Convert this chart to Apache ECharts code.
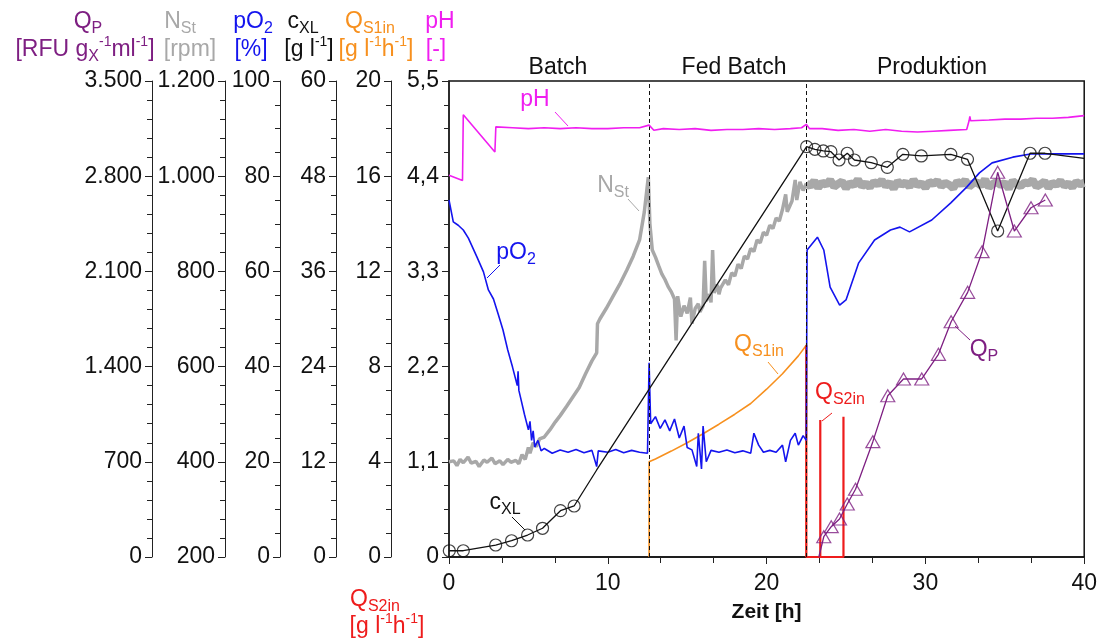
<!DOCTYPE html>
<html>
<head>
<meta charset="utf-8">
<script src="https://cdn.jsdelivr.net/npm/echarts@6/dist/echarts.min.js"></script>
<style>
  html, body { margin: 0; padding: 0; background: #fff; }
  #chart { width: 1100px; height: 640px; }
</style>
</head>
<body>
<div id="chart"></div>
<script>
// ---- time axis and process phases ----
const timeRange = [0, 40];
const phaseBounds = [12.6, 22.5];
const phaseNames = ['Batch', 'Fed Batch', 'Produktion'];

// ---- axis scales: [min, max, interval] ----
const qpScale   = [0, 3500, 700];
const nstScale  = [200, 1200, 200];
const po2Scale  = [0, 100, 20];
const cxlScale  = [0, 60, 12];
const qs1Scale  = [0, 20, 4];
const phScale   = [0, 5.5, 1.1];

// ---- pH [-] : [t, value] ----
const phData = [
  [0, 4.41], [0.85, 4.35], [0.9, 5.11], [2.89, 4.68], [2.95, 4.97], [4, 4.96], [5, 4.95],
  [6, 4.96], [7, 4.95], [8, 4.96], [9, 4.95], [10, 4.95], [11, 4.96], [12, 4.96],
  [12.6, 4.99], [12.9, 4.93], [13.5, 4.95], [14.5, 4.94], [15.5, 4.95], [16.5, 4.93],
  [17.5, 4.94], [18.5, 4.94], [19.5, 4.95], [20.5, 4.94], [21.5, 4.95], [22.2, 4.96],
  [22.5, 5.0], [22.7, 4.95], [23.5, 4.95], [24.5, 4.93], [25.5, 4.94], [26.5, 4.92],
  [27.5, 4.94], [28.5, 4.92], [29.5, 4.91], [30.5, 4.92], [31.5, 4.93], [32.6, 4.94],
  [32.75, 5.04], [32.8, 5.09], [32.85, 5.04], [34, 5.05], [35, 5.06], [36, 5.06],
  [37, 5.07], [38, 5.07], [39, 5.08], [40, 5.1]
];

// ---- stirrer speed N_St [rpm], batch + fed batch ----
const nstGrowth = [
  [0, 400], [0.3, 402], [0.5, 392], [0.7, 405], [0.9, 398], [1.2, 410], [1.4, 397],
  [1.7, 401], [1.9, 390], [2.2, 404], [2.4, 399], [2.7, 408], [2.9, 396], [3.2, 402],
  [3.4, 394], [3.7, 405], [3.9, 399], [4.2, 403], [4.4, 396], [4.6, 415], [4.8, 405],
  [5.0, 430], [5.1, 418], [5.3, 440], [5.5, 432], [5.7, 448], [6.0, 452], [6.35, 467],
  [6.7, 484], [7.0, 497], [7.4, 516], [7.8, 536], [8.2, 556], [8.6, 585], [9.0, 612],
  [9.3, 629], [9.35, 690], [9.5, 700], [9.9, 722], [10.3, 746], [10.8, 776], [11.2, 803],
  [11.6, 832], [12.0, 866], [12.3, 925], [12.55, 998],
  [12.65, 900], [12.8, 845], [13.0, 830], [13.2, 812], [13.4, 795], [13.6, 783], [13.8, 768],
  [14.0, 757], [14.2, 742], [14.3, 655], [14.4, 748], [14.6, 705], [14.8, 728], [15.0, 712],
  [15.2, 745], [15.3, 690], [15.5, 722], [15.7, 732], [15.8, 715], [16.0, 728], [16.1, 822],
  [16.2, 738], [16.4, 752], [16.5, 735], [16.6, 845], [16.7, 755], [16.9, 772], [17.0, 752],
  [17.1, 765], [17.4, 782], [17.6, 772], [17.8, 797], [18.0, 790], [18.2, 815], [18.4, 806],
  [18.6, 832], [18.8, 826], [19.0, 848], [19.2, 842], [19.4, 866], [19.6, 860], [19.8, 882],
  [20.0, 876], [20.2, 897], [20.4, 890], [20.6, 912], [20.8, 906], [21.0, 930], [21.2, 962],
  [21.3, 925], [21.6, 948], [21.8, 992], [21.9, 950], [22.1, 988], [22.3, 970], [22.5, 985]
];
// ---- stirrer speed N_St [rpm], production phase (noisy plateau) ----
const nstProduction = [
  [22.5, 985], [22.75, 979], [23, 990], [23.25, 976], [23.5, 987], [23.75, 982], [24, 992],
  [24.25, 978], [24.5, 984], [24.75, 989], [25, 975], [25.25, 986], [25.5, 981], [25.75, 993],
  [26, 979], [26.25, 985], [26.5, 977], [26.75, 988], [27, 983], [27.25, 991], [27.5, 980],
  [27.75, 986], [28, 974], [28.25, 989], [28.5, 982], [28.75, 987], [29, 978], [29.25, 992],
  [29.5, 981], [29.75, 985], [30, 976], [30.25, 988], [30.5, 984], [30.75, 990], [31, 979],
  [31.25, 986], [31.5, 982], [31.75, 975], [32, 989], [32.25, 983], [32.5, 991], [32.75, 978],
  [33, 985], [33.25, 987], [33.5, 980], [33.75, 993], [34, 977], [34.25, 984], [34.5, 988],
  [34.75, 981], [35, 986], [35.25, 974], [35.5, 990], [35.75, 983], [36, 979], [36.25, 987],
  [36.5, 985], [36.75, 992], [37, 978], [37.25, 983], [37.5, 989], [37.75, 976], [38, 986],
  [38.25, 982], [38.5, 990], [38.75, 980], [39, 985], [39.25, 977], [39.5, 988], [39.75, 983],
  [40, 986]
];

// ---- dissolved oxygen pO2 [%] ----
const po2Data = [
  [0, 75.0], [0.27, 70.4], [0.58, 69.7], [0.9, 68.7], [1.22, 67.0], [1.75, 63.1], [2.17, 59.9],
  [2.48, 56.1], [2.8, 54.2], [3.1, 51.0], [3.4, 47.7], [3.7, 43.5], [4.0, 39.9], [4.3, 36.0],
  [4.35, 39.0], [4.4, 35.0], [4.5, 33.6], [4.75, 30.0], [5.0, 26.7], [5.1, 28.5], [5.2, 24.5],
  [5.3, 26.5], [5.4, 23.1], [5.6, 24.5], [5.8, 22.3], [6.0, 22.8], [6.5, 21.8], [7.0, 22.5],
  [7.5, 22.0], [8.0, 22.6], [8.5, 21.9], [9.0, 22.4], [9.3, 19.0], [9.4, 22.3], [10.0, 22.0],
  [10.5, 22.6], [11.0, 21.9], [11.5, 22.4], [12.0, 22.0], [12.5, 21.8],
  [12.6, 40.8], [12.7, 28.0], [13.0, 29.5], [13.3, 27.0], [13.6, 28.8], [13.9, 26.5],
  [14.2, 29.0], [14.5, 25.0], [14.8, 27.5], [15.0, 23.0], [15.3, 22.5], [15.6, 19.0],
  [15.7, 26.0], [15.9, 18.5], [16.0, 27.5], [16.2, 20.0], [16.5, 22.4], [17.0, 22.0],
  [17.5, 22.5], [18.0, 21.9], [18.5, 22.3], [19.0, 21.8], [19.2, 26.0], [19.5, 23.5],
  [19.8, 22.0], [20.2, 22.4], [20.6, 22.0], [21.0, 23.5], [21.2, 20.0], [21.5, 24.5],
  [21.8, 26.0], [22.0, 23.5], [22.3, 25.5], [22.5, 24.5],
  [22.55, 64.5], [23.2, 67.2], [23.6, 64.5], [24.0, 56.7], [24.6, 52.9], [25.0, 54.0],
  [25.8, 61.8], [26.8, 66.6], [27.8, 68.7], [28.4, 69.3], [29.0, 68.3], [30.4, 70.8],
  [31.6, 74.4], [32.6, 77.7], [33.4, 80.7], [34.2, 82.8], [35.5, 84.0], [36.7, 84.7], [40, 84.7]
];

// ---- biomass c_XL [g/l]: samples (circles) and trend points between them ----
const cxlSamples = [
  [0.02, 0.79], [0.9, 0.79], [2.94, 1.51], [3.94, 2.05], [4.95, 2.77], [5.89, 3.62],
  [7.02, 5.84], [7.88, 6.43],
  [22.52, 51.72], [23.04, 51.39], [23.57, 51.18], [24.05, 51.09], [24.56, 50.04],
  [25.08, 50.89], [25.53, 50.04], [26.59, 49.70], [27.6, 49.12], [28.58, 50.76],
  [29.74, 50.55], [31.6, 50.76], [32.65, 50.13], [34.55, 41.09], [36.59, 50.89], [37.53, 50.89]
];
const cxlTrend = [[9.3, 10.97], [40, 50.26]];

// ---- substrate feed Q_S1in [g/(l h)] ----
const qs1Data = [
  [12.6, 0], [12.6, 4.0], [13, 4.12], [14, 4.45], [15, 4.8], [16, 5.18], [17, 5.58],
  [18, 6.0], [19, 6.45], [20, 7.05], [21, 7.7], [22, 8.45], [22.5, 8.9], [22.5, 0]
];
// ---- inducer feed Q_S2in [g/(l h)] ----
const qs2Data = [
  [22.5, 8.9], [22.5, 0], [23.38, 0], [23.38, 5.76], [23.38, 0],
  [24.84, 0], [24.84, 5.89], [24.84, 0]
];

// ---- product fluorescence Q_P [RFU g_X^-1 ml^-1]: samples (triangles) ----
const qpSamples = [
  [23.6, 149], [24.07, 223], [24.59, 279], [25.08, 390], [25.6, 498], [26.69, 848],
  [27.63, 1186], [28.62, 1309], [29.77, 1309], [30.82, 1490], [31.62, 1730], [32.66, 1946],
  [33.57, 2245], [34.55, 2829], [35.6, 2397], [36.65, 2568], [37.55, 2625]
];
const qpStart = [[23.29, 0]];

// ---------------------------------------------------------------
const F = '"Liberation Sans", Arial, sans-serif';
const FS = 23;
const COL = {
  qp: '#7e1f82', nst: '#a8a8a8', po2: '#1414ee', cxl: '#111111',
  qs1: '#f7901e', qs2: '#ee1c1c', ph: '#f01ef0', axis: '#222222'
};

const thousands = v => String(v).replace(/\B(?=(\d{3})+(?!\d))/g, '.');
const decComma = v => (v === 0 ? '0' : v.toFixed(1).replace('.', ','));
const plain = v => String(v);

const byTime = (a, b) => a[0] - b[0];
const cxlLine = cxlSamples.concat(cxlTrend).sort(byTime);
const qpLine = qpStart.concat(qpSamples).sort(byTime);

function yAxis(scale, offset, minor, fmt, width) {
  return {
    type: 'value', position: 'left', offset,
    min: scale[0], max: scale[1], interval: scale[2],
    axisLine: { show: true, onZero: false, lineStyle: { color: COL.axis, width: width || 1 } },
    axisTick: { show: true, length: 7, lineStyle: { color: COL.axis } },
    minorTick: { show: true, splitNumber: minor, length: 5, lineStyle: { color: COL.axis } },
    splitLine: { show: false }, minorSplitLine: { show: false },
    axisLabel: { fontSize: FS, color: '#111', fontFamily: F, margin: 10, formatter: fmt }
  };
}

const rich = {
  m: { fontSize: FS, fontFamily: F, lineHeight: 29 },
  s: { fontSize: 16, fontFamily: F, lineHeight: 16, verticalAlign: 'bottom' },
  u: { fontSize: 14, fontFamily: F, lineHeight: 14, verticalAlign: 'top' }
};

function label(x, y, text, color) {
  return {
    type: 'text', x, y, z: 100, silent: true,
    style: { text, rich, fill: color, align: 'center', verticalAlign: 'middle', font: FS + 'px ' + F }
  };
}
function leader(x1, y1, x2, y2, color) {
  return { type: 'line', z: 100, silent: true, shape: { x1, y1, x2, y2 }, style: { stroke: color, lineWidth: 1 } };
}

const graphics = [
  // axis headers
  label(88, 22, '{m|Q}{s|P}', COL.qp),
  label(85, 50, '{m|[RFU g}{s|X}{u|-1}{m|ml}{u|-1}{m|]}', COL.qp),
  label(180, 22, '{m|N}{s|St}', COL.nst),
  label(190, 50, '{m|[rpm]}', COL.nst),
  label(253, 22, '{m|pO}{s|2}', COL.po2),
  label(251, 50, '{m|[%]}', COL.po2),
  label(303, 22, '{m|c}{s|XL}', COL.cxl),
  label(309, 50, '{m|[g l}{u|-1}{m|]}', COL.cxl),
  label(370, 22, '{m|Q}{s|S1in}', COL.qs1),
  label(376, 50, '{m|[g l}{u|-1}{m|h}{u|-1}{m|]}', COL.qs1),
  label(440, 22, '{m|pH}', COL.ph),
  label(436, 50, '{m|[-]}', COL.ph),
  label(375, 600, '{m|Q}{s|S2in}', COL.qs2),
  label(387, 627, '{m|[g l}{u|-1}{m|h}{u|-1}{m|]}', COL.qs2),
  // phase titles
  label(558, 68, '{m|' + phaseNames[0] + '}', '#111'),
  label(734, 68, '{m|' + phaseNames[1] + '}', '#111'),
  label(932, 68, '{m|' + phaseNames[2] + '}', '#111'),
  // curve labels with leader lines
  label(535, 100, '{m|pH}', COL.ph), leader(555, 112, 568, 126, COL.ph),
  label(613, 186, '{m|N}{s|St}', COL.nst), leader(628, 199, 639, 211, COL.nst),
  label(516, 253, '{m|pO}{s|2}', COL.po2), leader(500, 265, 487, 278, COL.po2),
  label(759, 345, '{m|Q}{s|S1in}', COL.qs1), leader(768, 362, 778, 374, COL.qs1),
  label(840, 393, '{m|Q}{s|S2in}', COL.qs2), leader(832, 413, 822, 421, COL.qs2),
  label(984, 350, '{m|Q}{s|P}', COL.qp), leader(970, 340, 955, 326, COL.qp),
  label(505, 503, '{m|c}{s|XL}', COL.cxl), leader(512, 517, 525, 530, COL.cxl)
];

const chart = echarts.init(document.getElementById('chart'), null, { renderer: 'canvas' });
chart.setOption({
  animation: false,
  backgroundColor: '#fff',
  grid: { left: 449, right: 15, top: 81, bottom: 83, show: true, borderColor: '#111', borderWidth: 1.5, backgroundColor: 'transparent' },
  xAxis: {
    type: 'value', min: timeRange[0], max: timeRange[1], interval: 10,
    name: 'Zeit [h]', nameLocation: 'middle', nameGap: 45,
    nameTextStyle: { fontSize: 21, fontWeight: 'bold', color: '#111', fontFamily: F },
    axisLine: { show: true, onZero: false, lineStyle: { color: '#111', width: 1.5 } },
    axisTick: { show: true, length: 7, lineStyle: { color: COL.axis } },
    minorTick: { show: true, splitNumber: 3, length: 6, lineStyle: { color: COL.axis } },
    splitLine: { show: false }, minorSplitLine: { show: false },
    axisLabel: { fontSize: FS, color: '#111', fontFamily: F, margin: 15, formatter: plain }
  },
  yAxis: [
    yAxis(phScale, 0, 4, decComma, 1.5),
    yAxis(qs1Scale, 58, 4, plain),
    yAxis(cxlScale, 113, 5, plain),
    yAxis(po2Scale, 169, 4, plain),
    yAxis(nstScale, 224, 5, thousands),
    yAxis(qpScale, 297, 5, thousands)
  ],
  series: [
    { name: 'NSt', type: 'line', yAxisIndex: 4, data: nstGrowth, symbol: 'none', z: 2,
      lineStyle: { color: COL.nst, width: 3.5 } },
    { name: 'NSt', type: 'line', yAxisIndex: 4, data: nstProduction, symbol: 'none', z: 2,
      lineStyle: { color: COL.nst, width: 8 } },
    { name: 'QS1in', type: 'line', yAxisIndex: 1, data: qs1Data, symbol: 'none', z: 3,
      lineStyle: { color: COL.qs1, width: 1.6 } },
    { name: 'QS2in', type: 'line', yAxisIndex: 1, data: qs2Data, symbol: 'none', z: 3,
      lineStyle: { color: COL.qs2, width: 2.2 } },
    { name: 'pO2', type: 'line', yAxisIndex: 3, data: po2Data, symbol: 'none', z: 4,
      lineStyle: { color: COL.po2, width: 1.6 } },
    { name: 'cXL', type: 'line', yAxisIndex: 2, data: cxlLine, symbol: 'none', z: 5,
      lineStyle: { color: COL.cxl, width: 1.3 } },
    { name: 'cXL', type: 'scatter', yAxisIndex: 2, data: cxlSamples, symbol: 'circle', symbolSize: 12, z: 6,
      itemStyle: { color: 'rgba(255,255,255,0)', borderColor: COL.cxl, borderWidth: 1.2 } },
    { name: 'QP', type: 'line', yAxisIndex: 5, data: qpLine, symbol: 'none', z: 5,
      lineStyle: { color: COL.qp, width: 1.3 } },
    { name: 'QP', type: 'scatter', yAxisIndex: 5, data: qpSamples, symbol: 'triangle', symbolSize: [14, 12], z: 6,
      itemStyle: { color: 'rgba(255,255,255,0)', borderColor: COL.qp, borderWidth: 1.2 } },
    { name: 'pH', type: 'line', yAxisIndex: 0, data: phData, symbol: 'none', z: 7,
      lineStyle: { color: COL.ph, width: 1.6 } },
    { name: 'Phasen', type: 'line', yAxisIndex: 0, data: [], z: 9,
      markLine: {
        silent: true, symbol: ['none', 'none'], label: { show: false },
        lineStyle: { color: '#111', type: [4, 3], width: 1 },
        data: phaseBounds.map(t => ({ xAxis: t }))
      } }
  ],
  graphic: graphics
});
</script>
</body>
</html>
